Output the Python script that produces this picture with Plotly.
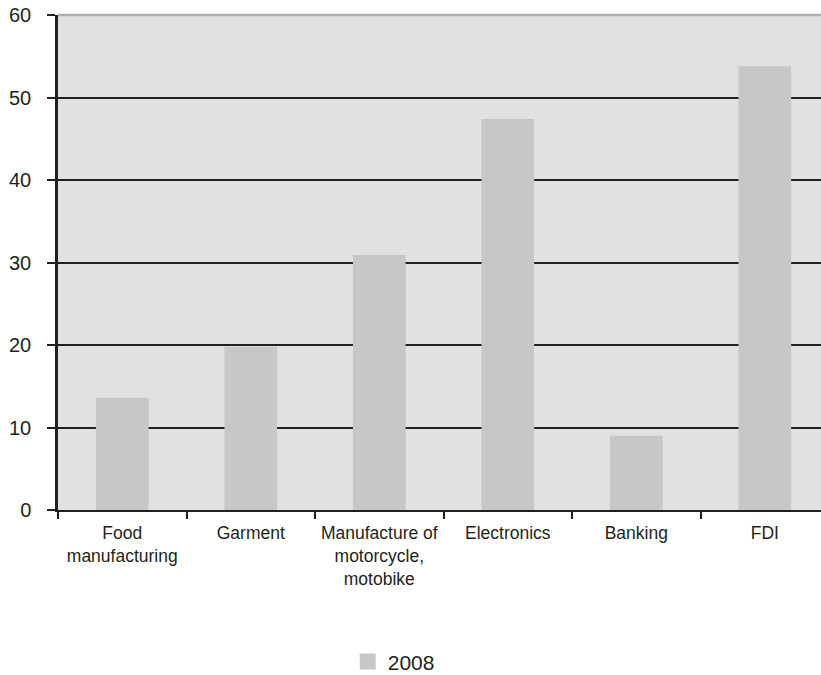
import plotly.graph_objects as go

categories = ["Food<br>manufacturing", "Garment", "Manufacture of<br>motorcycle,<br>motobike",
              "Electronics", "Banking", "FDI"]
values_2008 = [13.6, 19.8, 30.9, 47.4, 9.0, 53.8]
series_name = "2008"
y_ticks = [0, 10, 20, 30, 40, 50, 60]

DARK = "#231f20"
BAR = "#c6c7c9"
FONT = "Liberation Sans, Arial, sans-serif"

fig = go.Figure()
fig.add_trace(go.Bar(
    x=categories, y=values_2008, name=series_name,
    marker=dict(color=BAR, line=dict(width=0)),
    width=0.41, showlegend=False,
))
# legend proxy with a larger square swatch
fig.add_trace(go.Scatter(
    x=[None], y=[None], mode="markers", name=series_name,
    marker=dict(symbol="square", size=17, color=BAR),
    showlegend=True,
))

fig.update_layout(
    width=821, height=675,
    margin=dict(l=58, r=0, t=15, b=165, autoexpand=False),
    paper_bgcolor="white",
    plot_bgcolor="#e0e1e3",
    font=dict(family=FONT, size=18, color=DARK),
    showlegend=True,
    legend=dict(orientation="h", x=0.44, xanchor="center", y=-0.307, yanchor="middle",
                font=dict(size=21, family=FONT, color=DARK), itemwidth=30),
    xaxis=dict(
        range=[-0.5, 5.437],
        showgrid=False, showline=True, linecolor=DARK, linewidth=2,
        ticks="outside", tickson="boundaries", ticklen=7, tickwidth=2, tickcolor=DARK,
        tickfont=dict(size=17.5, family=FONT, color=DARK),
        tickangle=0, automargin=False,
        ticklabelstandoff=6,
    ),
    yaxis=dict(
        range=[0, 60], tickvals=y_ticks,
        showgrid=True, gridcolor=DARK, gridwidth=1.6,
        zeroline=False, showline=True, linecolor=DARK, linewidth=2.5,
        ticks="outside", ticklen=8, tickwidth=2, tickcolor=DARK,
        tickfont=dict(size=20, family=FONT, color=DARK),
        ticklabelstandoff=12, automargin=False,
    ),
    shapes=[dict(type="line", xref="paper", yref="paper", x0=0, x1=1, y0=1, y1=1,
                 line=dict(color="#b0b0b0", width=2.5), layer="above")],
)

fig.write_html("out.html")
